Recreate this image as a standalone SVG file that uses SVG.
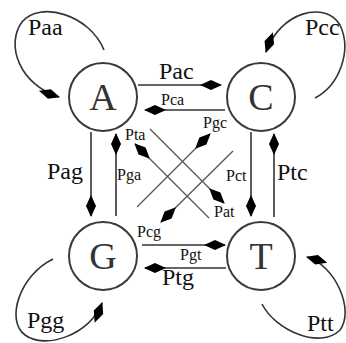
<svg xmlns="http://www.w3.org/2000/svg" width="346" height="343" viewBox="0 0 346 343">
<style>
.node circle{fill:#fff;stroke:#3a3a3a;stroke-width:2}
.node text{font-family:"Liberation Serif",serif;font-size:38px;fill:#333;text-anchor:middle}
.conn path,.conn line{fill:none;stroke:#333;stroke-width:1.6}
.conn .x{stroke:#555;stroke-width:1.3}
.lbl{font-family:"Liberation Serif",serif;fill:#111}
.big{font-size:24px}
.small{font-size:16px}
</style>
<defs>
<marker id="ah" markerUnits="userSpaceOnUse" markerWidth="24" markerHeight="12" viewBox="-23 -6 24 12" refX="0" refY="0" orient="auto" overflow="visible">
<path d="M1,0 L-10,-5 L-21,0 L-10,5 Z" fill="#000"/>
</marker>
</defs>
<rect width="346" height="343" fill="#fff"/>
<g class="conn">
<line x1="138" y1="85" x2="221" y2="85" marker-end="url(#ah)"/>
<line x1="225" y1="110" x2="145" y2="110" marker-end="url(#ah)"/>
<line x1="91" y1="132" x2="91" y2="216" marker-end="url(#ah)"/>
<line x1="116" y1="216" x2="116" y2="134" marker-end="url(#ah)"/>
<line x1="251" y1="132" x2="251" y2="216" marker-end="url(#ah)"/>
<line x1="274" y1="217" x2="274" y2="134" marker-end="url(#ah)"/>
<line x1="142" y1="245" x2="225" y2="245" marker-end="url(#ah)"/>
<line x1="226" y1="268" x2="145" y2="268" marker-end="url(#ah)"/>
<line class="x" x1="150" y1="129" x2="224" y2="203" marker-end="url(#ah)"/>
<line class="x" x1="209" y1="218" x2="135" y2="144" marker-end="url(#ah)"/>
<line class="x" x1="137" y1="207" x2="210" y2="134" marker-end="url(#ah)"/>
<line class="x" x1="233" y1="151" x2="161" y2="222" marker-end="url(#ah)"/>
<path d="M104,50 C90,15 40,0 22,22 C5,45 20,85 59,97" marker-end="url(#ah)"/>
<path d="M315,98 C340,85 352,50 340,25 C325,0 280,12 266,52" marker-end="url(#ah)"/>
<path d="M53,259 C20,275 5,320 25,335 C45,350 90,335 102,303" marker-end="url(#ah)"/>
<path d="M262,304 C275,330 320,350 340,330 C355,310 335,265 307,257" marker-end="url(#ah)"/>
</g>
<g id="A" class="node"><circle cx="103" cy="97" r="34"/><text x="103" y="110">A</text></g>
<g id="C" class="node"><circle cx="261" cy="97" r="34"/><text x="261" y="110">C</text></g>
<g id="G" class="node"><circle cx="103" cy="256" r="34"/><text x="103" y="269">G</text></g>
<g id="T" class="node"><circle cx="261" cy="256" r="34"/><text x="261" y="269">T</text></g>
<g id="labels">
<text class="lbl big" x="28" y="35">Paa</text>
<text class="lbl big" x="305" y="35">Pcc</text>
<text class="lbl big" x="159" y="79">Pac</text>
<text class="lbl small" x="161" y="105">Pca</text>
<text class="lbl small" x="125" y="140">Pta</text>
<text class="lbl small" x="203" y="128">Pgc</text>
<text class="lbl big" x="47" y="179">Pag</text>
<text class="lbl small" x="117" y="180">Pga</text>
<text class="lbl small" x="226" y="181">Pct</text>
<text class="lbl big" x="277" y="180">Ptc</text>
<text class="lbl small" x="214" y="217">Pat</text>
<text class="lbl small" x="137" y="237">Pcg</text>
<text class="lbl small" x="180" y="260">Pgt</text>
<text class="lbl big" x="162" y="285">Ptg</text>
<text class="lbl big" x="27" y="328">Pgg</text>
<text class="lbl big" x="307" y="331">Ptt</text>
</g>
</svg>
